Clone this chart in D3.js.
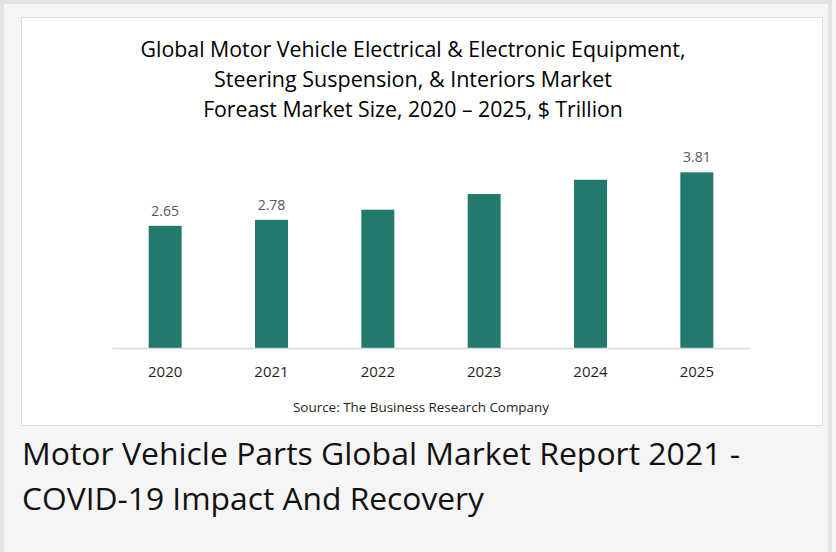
<!DOCTYPE html>
<html lang="en">
<head>
<meta charset="utf-8" />
<title>Motor Vehicle Parts Global Market</title>
<script src="https://d3js.org/d3.v7.min.js"></script>
<style>
  html, body { margin: 0; padding: 0; background: #f5f5f5; }
  svg { display: block; }
</style>
</head>
<body>
<script>
  // chart data
  const years = ["2020", "2021", "2022", "2023", "2024", "2025"];
  const marketSize = [2.65, 2.78, 3.0, 3.34, 3.65, 3.81];
  const shownLabels = ["2020", "2021", "2025"];
  const titleLines = [
    "Global Motor Vehicle Electrical & Electronic Equipment,",
    "Steering Suspension, & Interiors Market",
    "Foreast Market Size, 2020 \u2013 2025, $ Trillion"
  ];
  const captionLines = [
    "Motor Vehicle Parts Global Market Report 2021 -",
    "COVID-19 Impact And Recovery"
  ];

  const W = 836, H = 552;
  const svg = d3.select("body").append("svg")
    .attr("width", W).attr("height", H);

  // outer frame
  svg.append("rect").attr("x", 0).attr("y", 0).attr("width", W).attr("height", H)
    .attr("fill", "#f5f5f5");
  svg.append("rect").attr("x", 2).attr("y", 2).attr("width", W - 8).attr("height", H + 10)
    .attr("fill", "none").attr("stroke", "#e3e3e3").attr("stroke-width", 4);

  // white chart panel
  svg.append("rect").attr("x", 21.5).attr("y", 17.5).attr("width", 801).attr("height", 408)
    .attr("fill", "#fff").attr("stroke", "#dcdcdc");

  // fit a text to a target width by adjusting its font size
  function fitText(sel, target) {
    const fs = parseFloat(sel.attr("font-size"));
    const w = sel.node().getComputedTextLength();
    if (w > 0) sel.attr("font-size", (fs * target / w).toFixed(2));
  }

  const title = svg.append("g");
  const titleWidths = [545, 398, 420];
  titleLines.forEach((t, i) => {
    const tx = title.append("text")
      .attr("x", 413).attr("y", 57 + i * 30)
      .attr("text-anchor", "middle")
      .attr("font-family", "'Open Sans', sans-serif")
      .attr("font-size", 19).attr("fill", "#000")
      .text(t);
    fitText(tx, titleWidths[i]);
  });

  // scales
  const baseY = 348;
  const x = d3.scaleBand().domain(years).range([112, 750]).paddingInner(0.69).paddingOuter(0.345);
  const y = d3.scaleLinear().domain([0, 4]).range([baseY, baseY - 4 * 46.1]);

  svg.append("g").selectAll("rect")
    .data(years)
    .join("rect")
    .attr("x", d => x(d))
    .attr("y", (d, i) => y(marketSize[i]))
    .attr("width", x.bandwidth())
    .attr("height", (d, i) => baseY - y(marketSize[i]))
    .attr("fill", "#217a6b");

  // x axis
  const xAxis = svg.append("g")
    .attr("transform", `translate(0,${baseY})`)
    .call(d3.axisBottom(x).tickSize(0).tickPadding(18));
  xAxis.select(".domain").attr("stroke", "#d9d9d9").attr("stroke-width", 1.5);
  xAxis.selectAll("text")
    .attr("font-family", "'Open Sans', sans-serif")
    .attr("font-size", 15).attr("fill", "#1f1f1f");

  // value labels
  svg.append("g").selectAll("text")
    .data(years.filter(d => shownLabels.includes(d)))
    .join("text")
    .attr("x", d => x(d) + x.bandwidth() / 2)
    .attr("y", d => y(marketSize[years.indexOf(d)]) - 10)
    .attr("text-anchor", "middle")
    .attr("font-family", "'Open Sans', sans-serif")
    .attr("font-size", 14).attr("fill", "#595959")
    .text(d => marketSize[years.indexOf(d)].toFixed(2));

  // source
  svg.append("text")
    .attr("x", 421).attr("y", 412)
    .attr("text-anchor", "middle")
    .attr("font-family", "'Open Sans', sans-serif")
    .attr("font-size", 13).attr("fill", "#1f1f1f")
    .attr("textLength", 256).attr("lengthAdjust", "spacingAndGlyphs")
    .text("Source: The Business Research Company");

  // caption under the panel
  const capWidths = [718, 462];
  captionLines.forEach((t, i) => {
    svg.append("text")
      .attr("x", 22).attr("y", 465 + i * 45)
      .attr("font-family", "'Open Sans', sans-serif")
      .attr("font-size", 31).attr("fill", "#111")
      .attr("textLength", capWidths[i]).attr("lengthAdjust", "spacingAndGlyphs")
      .text(t);
  });
</script>
</body>
</html>
